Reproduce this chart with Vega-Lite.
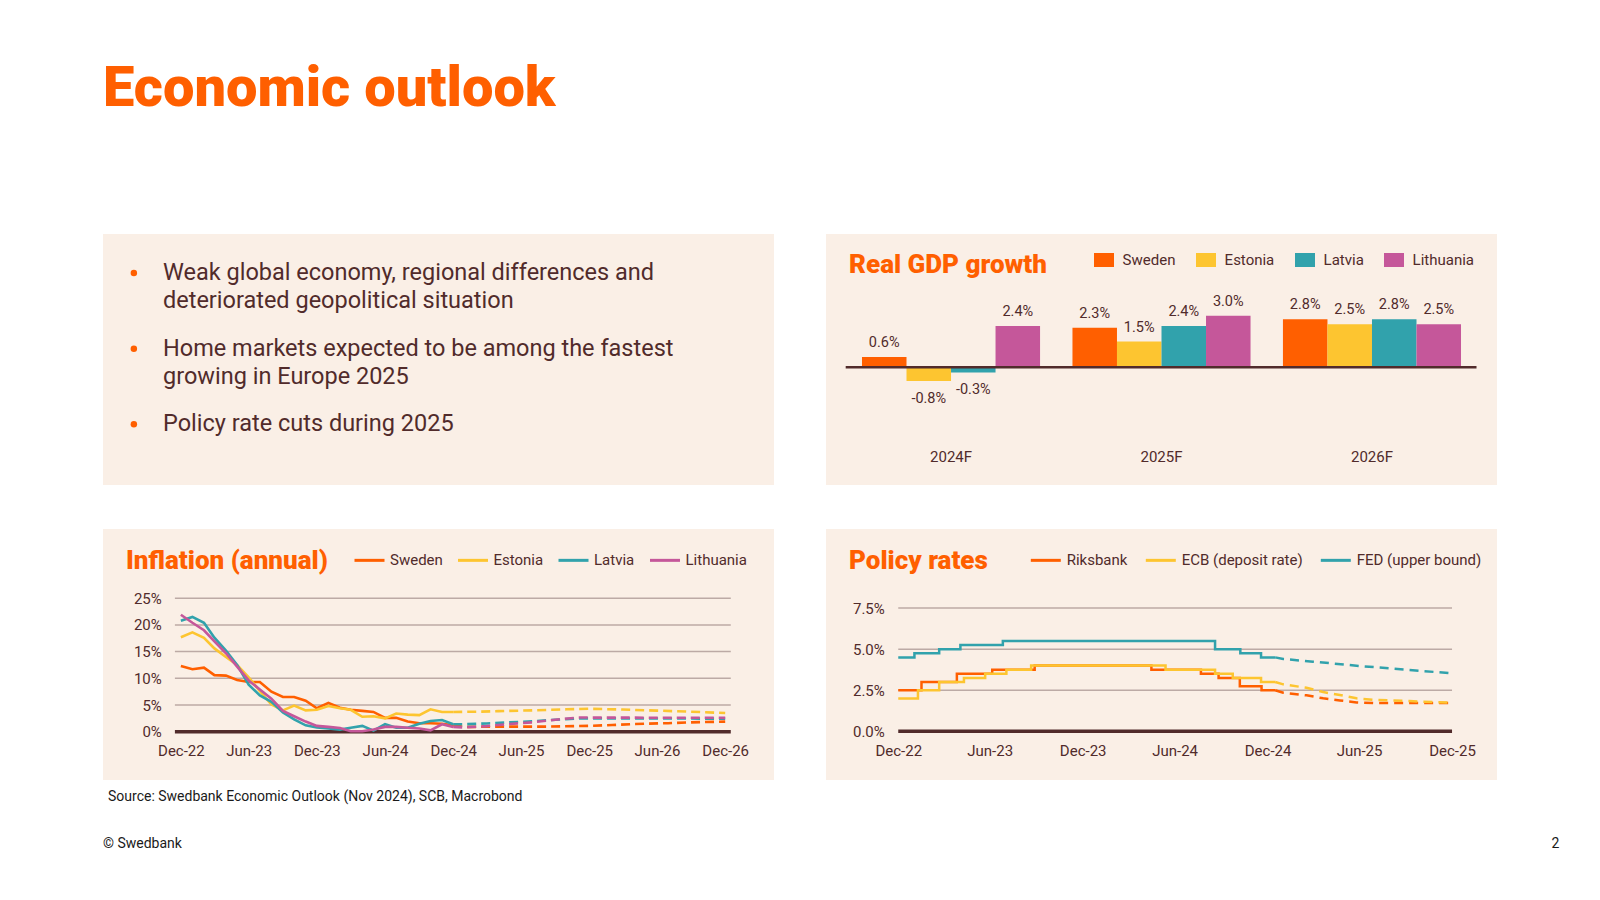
{
  "$schema": "https://vega.github.io/schema/vega-lite/v6.json",
  "background": "#ffffff",
  "padding": {"left": 103, "top": 61, "right": 0, "bottom": 0},
  "title": {"text": "Economic outlook", "anchor": "start", "frame": "group", "baseline": "top", "offset": 116, "font": "Roboto", "fontSize": 56, "fontWeight": 900, "color": "#ff5f00"},
  "config": {
    "font": "Roboto",
    "view": {"stroke": null},
    "locale": {"number": {"decimal": ".", "thousands": ",", "grouping": [3], "currency": ["", "%"], "minus": "-"}},
    "axis": {"labelFont": "Roboto", "labelFontSize": 15, "labelColor": "#512b2b", "domain": false, "ticks": false, "tickSize": 0, "grid": false, "labelPadding": 0, "labelFlush": false, "labelOverlap": false},
    "legend": {"labelFont": "Roboto", "labelFontSize": 15, "labelColor": "#512b2b", "padding": 0}
  },
  "datasets": {
    "bullets": [
      {"item": 1, "text": ["Weak global economy, regional differences and", "deteriorated geopolitical situation"]},
      {"item": 2, "text": ["Home markets expected to be among the fastest", "growing in Europe 2025"]},
      {"item": 3, "text": ["Policy rate cuts during 2025"]}
    ],
    "gdp": [
      {"year": "2024F", "country": "Sweden", "value": 0.6},
      {"year": "2024F", "country": "Estonia", "value": -0.8},
      {"year": "2024F", "country": "Latvia", "value": -0.3},
      {"year": "2024F", "country": "Lithuania", "value": 2.4},
      {"year": "2025F", "country": "Sweden", "value": 2.3},
      {"year": "2025F", "country": "Estonia", "value": 1.5},
      {"year": "2025F", "country": "Latvia", "value": 2.4},
      {"year": "2025F", "country": "Lithuania", "value": 3.0},
      {"year": "2026F", "country": "Sweden", "value": 2.8},
      {"year": "2026F", "country": "Estonia", "value": 2.5},
      {"year": "2026F", "country": "Latvia", "value": 2.8},
      {"year": "2026F", "country": "Lithuania", "value": 2.5}
    ],
    "gdpZero": [{"level": 0}],
    "inflGrid": [{"level": 0}, {"level": 5}, {"level": 10}, {"level": 15}, {"level": 20}, {"level": 25}],
    "policyGrid": [{"level": 0}, {"level": 2.5}, {"level": 5}, {"level": 7.5}],
    "footer": [{"item": "copyright", "note": "© Swedbank"}, {"item": "page", "note": "2"}],
    "inflation": [
      {"country": "Sweden", "date": "2022-12-01", "value": 12.3, "kind": "actual"},
      {"country": "Sweden", "date": "2023-01-01", "value": 11.7, "kind": "actual"},
      {"country": "Sweden", "date": "2023-02-01", "value": 12.0, "kind": "actual"},
      {"country": "Sweden", "date": "2023-03-01", "value": 10.6, "kind": "actual"},
      {"country": "Sweden", "date": "2023-04-01", "value": 10.5, "kind": "actual"},
      {"country": "Sweden", "date": "2023-05-01", "value": 9.7, "kind": "actual"},
      {"country": "Sweden", "date": "2023-06-01", "value": 9.3, "kind": "actual"},
      {"country": "Sweden", "date": "2023-07-01", "value": 9.3, "kind": "actual"},
      {"country": "Sweden", "date": "2023-08-01", "value": 7.5, "kind": "actual"},
      {"country": "Sweden", "date": "2023-09-01", "value": 6.5, "kind": "actual"},
      {"country": "Sweden", "date": "2023-10-01", "value": 6.5, "kind": "actual"},
      {"country": "Sweden", "date": "2023-11-01", "value": 5.8, "kind": "actual"},
      {"country": "Sweden", "date": "2023-12-01", "value": 4.4, "kind": "actual"},
      {"country": "Sweden", "date": "2024-01-01", "value": 5.4, "kind": "actual"},
      {"country": "Sweden", "date": "2024-02-01", "value": 4.5, "kind": "actual"},
      {"country": "Sweden", "date": "2024-03-01", "value": 4.1, "kind": "actual"},
      {"country": "Sweden", "date": "2024-04-01", "value": 3.9, "kind": "actual"},
      {"country": "Sweden", "date": "2024-05-01", "value": 3.7, "kind": "actual"},
      {"country": "Sweden", "date": "2024-06-01", "value": 2.6, "kind": "actual"},
      {"country": "Sweden", "date": "2024-07-01", "value": 2.6, "kind": "actual"},
      {"country": "Sweden", "date": "2024-08-01", "value": 1.9, "kind": "actual"},
      {"country": "Sweden", "date": "2024-09-01", "value": 1.6, "kind": "actual"},
      {"country": "Sweden", "date": "2024-10-01", "value": 1.6, "kind": "actual"},
      {"country": "Sweden", "date": "2024-11-01", "value": 1.5, "kind": "actual"},
      {"country": "Sweden", "date": "2024-12-01", "value": 1.2, "kind": "actual"},
      {"country": "Estonia", "date": "2022-12-01", "value": 17.7, "kind": "actual"},
      {"country": "Estonia", "date": "2023-01-01", "value": 18.6, "kind": "actual"},
      {"country": "Estonia", "date": "2023-02-01", "value": 17.6, "kind": "actual"},
      {"country": "Estonia", "date": "2023-03-01", "value": 15.6, "kind": "actual"},
      {"country": "Estonia", "date": "2023-04-01", "value": 14.0, "kind": "actual"},
      {"country": "Estonia", "date": "2023-05-01", "value": 12.5, "kind": "actual"},
      {"country": "Estonia", "date": "2023-06-01", "value": 10.2, "kind": "actual"},
      {"country": "Estonia", "date": "2023-07-01", "value": 7.6, "kind": "actual"},
      {"country": "Estonia", "date": "2023-08-01", "value": 5.1, "kind": "actual"},
      {"country": "Estonia", "date": "2023-09-01", "value": 4.0, "kind": "actual"},
      {"country": "Estonia", "date": "2023-10-01", "value": 4.9, "kind": "actual"},
      {"country": "Estonia", "date": "2023-11-01", "value": 4.0, "kind": "actual"},
      {"country": "Estonia", "date": "2023-12-01", "value": 4.1, "kind": "actual"},
      {"country": "Estonia", "date": "2024-01-01", "value": 4.8, "kind": "actual"},
      {"country": "Estonia", "date": "2024-02-01", "value": 4.4, "kind": "actual"},
      {"country": "Estonia", "date": "2024-03-01", "value": 4.1, "kind": "actual"},
      {"country": "Estonia", "date": "2024-04-01", "value": 2.8, "kind": "actual"},
      {"country": "Estonia", "date": "2024-05-01", "value": 2.9, "kind": "actual"},
      {"country": "Estonia", "date": "2024-06-01", "value": 2.5, "kind": "actual"},
      {"country": "Estonia", "date": "2024-07-01", "value": 3.4, "kind": "actual"},
      {"country": "Estonia", "date": "2024-08-01", "value": 3.2, "kind": "actual"},
      {"country": "Estonia", "date": "2024-09-01", "value": 3.1, "kind": "actual"},
      {"country": "Estonia", "date": "2024-10-01", "value": 4.2, "kind": "actual"},
      {"country": "Estonia", "date": "2024-11-01", "value": 3.7, "kind": "actual"},
      {"country": "Estonia", "date": "2024-12-01", "value": 3.7, "kind": "actual"},
      {"country": "Latvia", "date": "2022-12-01", "value": 20.8, "kind": "actual"},
      {"country": "Latvia", "date": "2023-01-01", "value": 21.5, "kind": "actual"},
      {"country": "Latvia", "date": "2023-02-01", "value": 20.4, "kind": "actual"},
      {"country": "Latvia", "date": "2023-03-01", "value": 17.6, "kind": "actual"},
      {"country": "Latvia", "date": "2023-04-01", "value": 15.2, "kind": "actual"},
      {"country": "Latvia", "date": "2023-05-01", "value": 12.5, "kind": "actual"},
      {"country": "Latvia", "date": "2023-06-01", "value": 8.8, "kind": "actual"},
      {"country": "Latvia", "date": "2023-07-01", "value": 6.8, "kind": "actual"},
      {"country": "Latvia", "date": "2023-08-01", "value": 5.6, "kind": "actual"},
      {"country": "Latvia", "date": "2023-09-01", "value": 3.6, "kind": "actual"},
      {"country": "Latvia", "date": "2023-10-01", "value": 2.3, "kind": "actual"},
      {"country": "Latvia", "date": "2023-11-01", "value": 1.2, "kind": "actual"},
      {"country": "Latvia", "date": "2023-12-01", "value": 0.8, "kind": "actual"},
      {"country": "Latvia", "date": "2024-01-01", "value": 0.6, "kind": "actual"},
      {"country": "Latvia", "date": "2024-02-01", "value": 0.4, "kind": "actual"},
      {"country": "Latvia", "date": "2024-03-01", "value": 0.75, "kind": "actual"},
      {"country": "Latvia", "date": "2024-04-01", "value": 1.1, "kind": "actual"},
      {"country": "Latvia", "date": "2024-05-01", "value": 0.2, "kind": "actual"},
      {"country": "Latvia", "date": "2024-06-01", "value": 1.4, "kind": "actual"},
      {"country": "Latvia", "date": "2024-07-01", "value": 0.75, "kind": "actual"},
      {"country": "Latvia", "date": "2024-08-01", "value": 0.75, "kind": "actual"},
      {"country": "Latvia", "date": "2024-09-01", "value": 1.5, "kind": "actual"},
      {"country": "Latvia", "date": "2024-10-01", "value": 2.0, "kind": "actual"},
      {"country": "Latvia", "date": "2024-11-01", "value": 2.2, "kind": "actual"},
      {"country": "Latvia", "date": "2024-12-01", "value": 1.4, "kind": "actual"},
      {"country": "Lithuania", "date": "2022-12-01", "value": 21.9, "kind": "actual"},
      {"country": "Lithuania", "date": "2023-01-01", "value": 20.4, "kind": "actual"},
      {"country": "Lithuania", "date": "2023-02-01", "value": 19.0, "kind": "actual"},
      {"country": "Lithuania", "date": "2023-03-01", "value": 16.9, "kind": "actual"},
      {"country": "Lithuania", "date": "2023-04-01", "value": 14.7, "kind": "actual"},
      {"country": "Lithuania", "date": "2023-05-01", "value": 12.2, "kind": "actual"},
      {"country": "Lithuania", "date": "2023-06-01", "value": 9.6, "kind": "actual"},
      {"country": "Lithuania", "date": "2023-07-01", "value": 7.9, "kind": "actual"},
      {"country": "Lithuania", "date": "2023-08-01", "value": 6.2, "kind": "actual"},
      {"country": "Lithuania", "date": "2023-09-01", "value": 3.9, "kind": "actual"},
      {"country": "Lithuania", "date": "2023-10-01", "value": 2.9, "kind": "actual"},
      {"country": "Lithuania", "date": "2023-11-01", "value": 1.9, "kind": "actual"},
      {"country": "Lithuania", "date": "2023-12-01", "value": 1.1, "kind": "actual"},
      {"country": "Lithuania", "date": "2024-01-01", "value": 0.9, "kind": "actual"},
      {"country": "Lithuania", "date": "2024-02-01", "value": 0.7, "kind": "actual"},
      {"country": "Lithuania", "date": "2024-03-01", "value": 0.1, "kind": "actual"},
      {"country": "Lithuania", "date": "2024-04-01", "value": 0.1, "kind": "actual"},
      {"country": "Lithuania", "date": "2024-05-01", "value": 0.4, "kind": "actual"},
      {"country": "Lithuania", "date": "2024-06-01", "value": 0.9, "kind": "actual"},
      {"country": "Lithuania", "date": "2024-07-01", "value": 0.9, "kind": "actual"},
      {"country": "Lithuania", "date": "2024-08-01", "value": 0.75, "kind": "actual"},
      {"country": "Lithuania", "date": "2024-09-01", "value": 0.6, "kind": "actual"},
      {"country": "Lithuania", "date": "2024-10-01", "value": 0.25, "kind": "actual"},
      {"country": "Lithuania", "date": "2024-11-01", "value": 1.4, "kind": "actual"},
      {"country": "Lithuania", "date": "2024-12-01", "value": 0.9, "kind": "actual"},
      {"country": "Sweden", "date": "2024-12-01", "value": 1.2, "kind": "forecast"},
      {"country": "Sweden", "date": "2025-01-01", "value": 0.9, "kind": "forecast"},
      {"country": "Sweden", "date": "2025-04-01", "value": 0.95, "kind": "forecast"},
      {"country": "Sweden", "date": "2025-08-01", "value": 0.95, "kind": "forecast"},
      {"country": "Sweden", "date": "2025-12-01", "value": 1.1, "kind": "forecast"},
      {"country": "Sweden", "date": "2026-02-01", "value": 1.25, "kind": "forecast"},
      {"country": "Sweden", "date": "2026-04-01", "value": 1.45, "kind": "forecast"},
      {"country": "Sweden", "date": "2026-07-01", "value": 1.6, "kind": "forecast"},
      {"country": "Sweden", "date": "2026-09-01", "value": 1.75, "kind": "forecast"},
      {"country": "Sweden", "date": "2026-12-01", "value": 1.9, "kind": "forecast"},
      {"country": "Estonia", "date": "2024-12-01", "value": 3.7, "kind": "forecast"},
      {"country": "Estonia", "date": "2025-02-01", "value": 3.75, "kind": "forecast"},
      {"country": "Estonia", "date": "2025-04-01", "value": 3.85, "kind": "forecast"},
      {"country": "Estonia", "date": "2025-07-01", "value": 4.0, "kind": "forecast"},
      {"country": "Estonia", "date": "2025-10-01", "value": 4.2, "kind": "forecast"},
      {"country": "Estonia", "date": "2025-12-01", "value": 4.3, "kind": "forecast"},
      {"country": "Estonia", "date": "2026-03-01", "value": 4.15, "kind": "forecast"},
      {"country": "Estonia", "date": "2026-06-01", "value": 3.95, "kind": "forecast"},
      {"country": "Estonia", "date": "2026-09-01", "value": 3.75, "kind": "forecast"},
      {"country": "Estonia", "date": "2026-12-01", "value": 3.5, "kind": "forecast"},
      {"country": "Latvia", "date": "2024-12-01", "value": 1.4, "kind": "forecast"},
      {"country": "Latvia", "date": "2025-01-01", "value": 1.4, "kind": "forecast"},
      {"country": "Latvia", "date": "2025-03-01", "value": 1.55, "kind": "forecast"},
      {"country": "Latvia", "date": "2025-05-01", "value": 1.75, "kind": "forecast"},
      {"country": "Latvia", "date": "2025-07-01", "value": 1.95, "kind": "forecast"},
      {"country": "Latvia", "date": "2025-09-01", "value": 2.25, "kind": "forecast"},
      {"country": "Latvia", "date": "2025-11-01", "value": 2.5, "kind": "forecast"},
      {"country": "Latvia", "date": "2025-12-01", "value": 2.5, "kind": "forecast"},
      {"country": "Latvia", "date": "2026-12-01", "value": 2.45, "kind": "forecast"},
      {"country": "Lithuania", "date": "2024-12-01", "value": 0.9, "kind": "forecast"},
      {"country": "Lithuania", "date": "2025-01-01", "value": 0.8, "kind": "forecast"},
      {"country": "Lithuania", "date": "2025-03-01", "value": 1.05, "kind": "forecast"},
      {"country": "Lithuania", "date": "2025-05-01", "value": 1.45, "kind": "forecast"},
      {"country": "Lithuania", "date": "2025-07-01", "value": 1.75, "kind": "forecast"},
      {"country": "Lithuania", "date": "2025-09-01", "value": 2.25, "kind": "forecast"},
      {"country": "Lithuania", "date": "2025-11-01", "value": 2.65, "kind": "forecast"},
      {"country": "Lithuania", "date": "2025-12-01", "value": 2.65, "kind": "forecast"},
      {"country": "Lithuania", "date": "2026-12-01", "value": 2.6, "kind": "forecast"}
    ],
    "policy": [
      {"bank": "Riksbank", "date": "2022-12-31", "rate": 2.5, "kind": "actual"},
      {"bank": "Riksbank", "date": "2023-02-15", "rate": 3.0, "kind": "actual"},
      {"bank": "Riksbank", "date": "2023-04-26", "rate": 3.5, "kind": "actual"},
      {"bank": "Riksbank", "date": "2023-07-05", "rate": 3.75, "kind": "actual"},
      {"bank": "Riksbank", "date": "2023-09-27", "rate": 4.0, "kind": "actual"},
      {"bank": "Riksbank", "date": "2024-05-15", "rate": 3.75, "kind": "actual"},
      {"bank": "Riksbank", "date": "2024-08-21", "rate": 3.5, "kind": "actual"},
      {"bank": "Riksbank", "date": "2024-09-25", "rate": 3.25, "kind": "actual"},
      {"bank": "Riksbank", "date": "2024-11-06", "rate": 2.75, "kind": "actual"},
      {"bank": "Riksbank", "date": "2024-12-19", "rate": 2.5, "kind": "actual"},
      {"bank": "Riksbank", "date": "2025-01-15", "rate": 2.5, "kind": "actual"},
      {"bank": "ECB (deposit rate)", "date": "2022-12-31", "rate": 2.0, "kind": "actual"},
      {"bank": "ECB (deposit rate)", "date": "2023-02-08", "rate": 2.5, "kind": "actual"},
      {"bank": "ECB (deposit rate)", "date": "2023-03-22", "rate": 3.0, "kind": "actual"},
      {"bank": "ECB (deposit rate)", "date": "2023-05-10", "rate": 3.25, "kind": "actual"},
      {"bank": "ECB (deposit rate)", "date": "2023-06-21", "rate": 3.5, "kind": "actual"},
      {"bank": "ECB (deposit rate)", "date": "2023-08-02", "rate": 3.75, "kind": "actual"},
      {"bank": "ECB (deposit rate)", "date": "2023-09-20", "rate": 4.0, "kind": "actual"},
      {"bank": "ECB (deposit rate)", "date": "2024-06-12", "rate": 3.75, "kind": "actual"},
      {"bank": "ECB (deposit rate)", "date": "2024-09-18", "rate": 3.5, "kind": "actual"},
      {"bank": "ECB (deposit rate)", "date": "2024-10-23", "rate": 3.25, "kind": "actual"},
      {"bank": "ECB (deposit rate)", "date": "2024-12-18", "rate": 3.0, "kind": "actual"},
      {"bank": "ECB (deposit rate)", "date": "2025-01-15", "rate": 3.0, "kind": "actual"},
      {"bank": "FED (upper bound)", "date": "2022-12-31", "rate": 4.5, "kind": "actual"},
      {"bank": "FED (upper bound)", "date": "2023-02-01", "rate": 4.75, "kind": "actual"},
      {"bank": "FED (upper bound)", "date": "2023-03-22", "rate": 5.0, "kind": "actual"},
      {"bank": "FED (upper bound)", "date": "2023-05-03", "rate": 5.25, "kind": "actual"},
      {"bank": "FED (upper bound)", "date": "2023-07-26", "rate": 5.5, "kind": "actual"},
      {"bank": "FED (upper bound)", "date": "2024-09-18", "rate": 5.0, "kind": "actual"},
      {"bank": "FED (upper bound)", "date": "2024-11-07", "rate": 4.75, "kind": "actual"},
      {"bank": "FED (upper bound)", "date": "2024-12-18", "rate": 4.5, "kind": "actual"},
      {"bank": "FED (upper bound)", "date": "2025-01-15", "rate": 4.5, "kind": "actual"},
      {"bank": "Riksbank", "date": "2025-01-15", "rate": 2.5, "kind": "forecast"},
      {"bank": "Riksbank", "date": "2025-01-31", "rate": 2.35, "kind": "forecast"},
      {"bank": "Riksbank", "date": "2025-03-18", "rate": 2.19, "kind": "forecast"},
      {"bank": "Riksbank", "date": "2025-04-20", "rate": 2.01, "kind": "forecast"},
      {"bank": "Riksbank", "date": "2025-05-23", "rate": 1.88, "kind": "forecast"},
      {"bank": "Riksbank", "date": "2025-06-25", "rate": 1.76, "kind": "forecast"},
      {"bank": "Riksbank", "date": "2025-07-28", "rate": 1.72, "kind": "forecast"},
      {"bank": "Riksbank", "date": "2025-12-31", "rate": 1.72, "kind": "forecast"},
      {"bank": "ECB (deposit rate)", "date": "2025-01-15", "rate": 3.0, "kind": "forecast"},
      {"bank": "ECB (deposit rate)", "date": "2025-01-31", "rate": 2.86, "kind": "forecast"},
      {"bank": "ECB (deposit rate)", "date": "2025-03-18", "rate": 2.65, "kind": "forecast"},
      {"bank": "ECB (deposit rate)", "date": "2025-04-20", "rate": 2.39, "kind": "forecast"},
      {"bank": "ECB (deposit rate)", "date": "2025-05-23", "rate": 2.21, "kind": "forecast"},
      {"bank": "ECB (deposit rate)", "date": "2025-06-25", "rate": 2.01, "kind": "forecast"},
      {"bank": "ECB (deposit rate)", "date": "2025-07-28", "rate": 1.92, "kind": "forecast"},
      {"bank": "ECB (deposit rate)", "date": "2025-10-08", "rate": 1.84, "kind": "forecast"},
      {"bank": "ECB (deposit rate)", "date": "2025-12-31", "rate": 1.74, "kind": "forecast"},
      {"bank": "FED (upper bound)", "date": "2025-01-15", "rate": 4.5, "kind": "forecast"},
      {"bank": "FED (upper bound)", "date": "2025-01-31", "rate": 4.4, "kind": "forecast"},
      {"bank": "FED (upper bound)", "date": "2025-03-31", "rate": 4.24, "kind": "forecast"},
      {"bank": "FED (upper bound)", "date": "2025-06-30", "rate": 3.98, "kind": "forecast"},
      {"bank": "FED (upper bound)", "date": "2025-09-30", "rate": 3.75, "kind": "forecast"},
      {"bank": "FED (upper bound)", "date": "2025-12-31", "rate": 3.53, "kind": "forecast"}
    ]
  },
  "spacing": 10,
  "resolve": {"scale": {"color": "independent", "x": "independent", "y": "independent"}, "legend": {"color": "independent"}},
  "vconcat": [
    {
      "spacing": 44,
      "resolve": {"scale": {"color": "independent", "x": "independent", "y": "independent"}, "legend": {"color": "independent"}},
      "vconcat": [
        {
          "spacing": 52,
          "bounds": "flush",
          "resolve": {"scale": {"color": "independent", "x": "independent", "y": "independent"}, "legend": {"color": "independent"}},
          "hconcat": [
            {
              "width": 671,
              "height": 251,
              "view": {"fill": "#faefe6", "stroke": null},
              "data": {"name": "bullets"},
              "layer": [
                {
                  "mark": {"type": "circle", "size": 42, "color": "#ff5f00", "opacity": 1, "yOffset": -7},
                  "encoding": {
                    "x": {"datum": 0.046, "type": "quantitative", "scale": {"domain": [0, 1], "nice": false, "zero": false}, "axis": null},
                    "y": {"field": "item", "type": "quantitative", "scale": {"domain": [0.392, 3.71], "reverse": true, "nice": false, "zero": false}, "axis": null}
                  }
                },
                {
                  "mark": {"type": "text", "align": "left", "baseline": "alphabetic", "lineHeight": 28, "font": "Roboto", "fontSize": 23.5, "color": "#512b2b"},
                  "encoding": {
                    "x": {"datum": 0.0894, "type": "quantitative"},
                    "y": {"field": "item", "type": "quantitative"},
                    "text": {"field": "text"}
                  }
                }
              ]
            },
            {
              "width": 671,
              "height": 251,
              "view": {"fill": "#faefe6", "stroke": null},
              "title": {"text": "Real GDP growth", "anchor": "start", "frame": "group", "baseline": "top", "offset": -44.2, "dx": 23, "font": "Roboto", "fontSize": 26, "fontWeight": 900, "color": "#ff5f00"},
              "layer": [
                {
                  "data": {"name": "gdp"},
                  "mark": {"type": "bar"},
                  "encoding": {
                    "x": {"field": "year", "type": "nominal", "scale": {"paddingInner": 0.154, "paddingOuter": 0.171}, "axis": {"orient": "bottom", "offset": -35.5, "labelAngle": 0, "title": null, "labelBaseline": "top"}},
                    "xOffset": {"field": "country", "type": "nominal", "sort": ["Sweden", "Estonia", "Latvia", "Lithuania"], "scale": {"paddingInner": 0, "paddingOuter": 0}},
                    "y": {"field": "value", "type": "quantitative", "scale": {"domain": [-6.84, 7.75], "nice": false, "zero": false}, "axis": null},
                    "color": {"field": "country", "type": "nominal", "sort": ["Sweden", "Estonia", "Latvia", "Lithuania"], "scale": {"domain": ["Sweden", "Estonia", "Latvia", "Lithuania"], "range": ["#ff5f00", "#fdc530", "#31a2ac", "#c5579a"]},
                      "legend": {"orient": "none", "legendX": 268, "legendY": 16, "direction": "horizontal", "title": null, "symbolType": "M-1,-0.7H1V0.7H-1Z", "symbolSize": 400, "symbolStrokeWidth": 0, "symbolOpacity": 1, "labelOffset": 8.6, "columnPadding": 20}}
                  }
                },
                {
                  "data": {"name": "gdpZero"},
                  "mark": {"type": "rule", "color": "#512b2b", "strokeWidth": 2.5, "xOffset": -16.3, "x2Offset": 15.5},
                  "encoding": {
                    "x": {"datum": "2024F", "type": "nominal", "bandPosition": 0},
                    "x2": {"datum": "2026F", "bandPosition": 1},
                    "y": {"field": "level", "type": "quantitative"}
                  }
                },
                {
                  "data": {"name": "gdp"},
                  "transform": [{"filter": "datum.value >= 0"}],
                  "mark": {"type": "text", "baseline": "alphabetic", "dy": -10, "font": "Roboto", "fontSize": 14.5, "color": "#512b2b"},
                  "encoding": {
                    "x": {"field": "year", "type": "nominal"},
                    "xOffset": {"field": "country", "type": "nominal", "sort": ["Sweden", "Estonia", "Latvia", "Lithuania"]},
                    "y": {"field": "value", "type": "quantitative"},
                    "text": {"field": "value", "type": "quantitative", "format": "$.1f"}
                  }
                },
                {
                  "data": {"name": "gdp"},
                  "transform": [{"filter": "datum.value < 0"}],
                  "mark": {"type": "text", "baseline": "top", "dy": 11, "font": "Roboto", "fontSize": 14.5, "color": "#512b2b"},
                  "encoding": {
                    "x": {"field": "year", "type": "nominal"},
                    "xOffset": {"field": "country", "type": "nominal", "sort": ["Sweden", "Estonia", "Latvia", "Lithuania"]},
                    "y": {"field": "value", "type": "quantitative"},
                    "text": {"field": "value", "type": "quantitative", "format": "$.1f"}
                  }
                }
              ]
            }
          ]
        },
        {
          "spacing": 52,
          "bounds": "flush",
          "resolve": {"scale": {"color": "independent", "x": "independent", "y": "independent"}, "legend": {"color": "independent"}},
          "hconcat": [
            {
              "width": 671,
              "height": 251,
              "view": {"fill": "#faefe6", "stroke": null},
              "title": {"text": "Inflation (annual)", "anchor": "start", "frame": "group", "baseline": "top", "offset": -44.8, "dx": 23, "font": "Roboto", "fontSize": 26, "fontWeight": 900, "color": "#ff5f00"},
              "layer": [
                {
                  "data": {"name": "inflGrid"},
                  "transform": [{"filter": "datum.level > 0"}],
                  "mark": {"type": "rule", "color": "#bcaaa5", "strokeWidth": 1.5},
                  "encoding": {
                    "x": {"datum": {"year": 2022, "month": 11, "date": 15, "utc": true}, "type": "temporal",
                      "scale": {"type": "utc", "domain": [{"year": 2022, "month": 5, "date": 6, "utc": true}, {"year": 2027, "month": 4, "date": 11, "utc": true}], "nice": false},
                      "axis": {"orient": "bottom", "offset": -36.2, "title": null, "format": "%b-%y", "labelBaseline": "top",
                        "values": [{"year": 2022, "month": 12, "date": 1, "utc": true}, {"year": 2023, "month": 6, "date": 1, "utc": true}, {"year": 2023, "month": 12, "date": 1, "utc": true}, {"year": 2024, "month": 6, "date": 1, "utc": true}, {"year": 2024, "month": 12, "date": 1, "utc": true}, {"year": 2025, "month": 6, "date": 1, "utc": true}, {"year": 2025, "month": 12, "date": 1, "utc": true}, {"year": 2026, "month": 6, "date": 1, "utc": true}, {"year": 2026, "month": 12, "date": 1, "utc": true}]}},
                    "x2": {"datum": {"year": 2026, "month": 12, "date": 16, "utc": true}},
                    "y": {"field": "level", "type": "quantitative", "scale": {"domain": [-9.04, 37.96], "nice": false, "zero": false},
                      "axis": {"orient": "left", "offset": -58.3, "title": null, "values": [0, 5, 10, 15, 20, 25], "format": "$.0f"}}
                  }
                },
                {
                  "data": {"name": "inflGrid"},
                  "transform": [{"filter": "datum.level == 0"}],
                  "mark": {"type": "rule", "color": "#512b2b", "strokeWidth": 3.5},
                  "encoding": {
                    "x": {"datum": {"year": 2022, "month": 11, "date": 15, "utc": true}, "type": "temporal"},
                    "x2": {"datum": {"year": 2026, "month": 12, "date": 16, "utc": true}},
                    "y": {"field": "level", "type": "quantitative"}
                  }
                },
                {
                  "data": {"name": "inflation"},
                  "transform": [{"filter": "datum.kind == 'actual'"}],
                  "mark": {"type": "line", "strokeWidth": 2.6},
                  "encoding": {
                    "x": {"field": "date", "type": "temporal"},
                    "y": {"field": "value", "type": "quantitative"},
                    "color": {"field": "country", "type": "nominal", "scale": {"domain": ["Sweden", "Estonia", "Latvia", "Lithuania"], "range": ["#ff5f00", "#fdc530", "#31a2ac", "#c5579a"]},
                      "legend": {"orient": "none", "legendX": 250, "legendY": 14.6, "direction": "horizontal", "title": null, "symbolType": "stroke", "symbolSize": 900, "symbolStrokeWidth": 3, "symbolDash": [], "labelOffset": 4, "columnPadding": 8.5}}
                  }
                },
                {
                  "data": {"name": "inflation"},
                  "transform": [{"filter": "datum.kind == 'forecast'"}],
                  "mark": {"type": "line", "strokeWidth": 2.6, "strokeDash": [9, 5]},
                  "encoding": {
                    "x": {"field": "date", "type": "temporal"},
                    "y": {"field": "value", "type": "quantitative"},
                    "color": {"field": "country", "type": "nominal"}
                  }
                }
              ]
            },
            {
              "width": 671,
              "height": 251,
              "view": {"fill": "#faefe6", "stroke": null},
              "title": {"text": "Policy rates", "anchor": "start", "frame": "group", "baseline": "top", "offset": -44.8, "dx": 23, "font": "Roboto", "fontSize": 26, "fontWeight": 900, "color": "#ff5f00"},
              "layer": [
                {
                  "data": {"name": "policyGrid"},
                  "transform": [{"filter": "datum.level > 0"}],
                  "mark": {"type": "rule", "color": "#bcaaa5", "strokeWidth": 1.5},
                  "encoding": {
                    "x": {"datum": {"year": 2022, "month": 12, "date": 31, "utc": true}, "type": "temporal",
                      "scale": {"type": "utc", "domain": [{"year": 2022, "month": 8, "date": 10, "utc": true}, {"year": 2026, "month": 3, "date": 30, "utc": true}], "nice": false},
                      "axis": {"orient": "bottom", "offset": -36.2, "title": null, "format": "%b-%y", "labelBaseline": "top",
                        "values": [{"year": 2022, "month": 12, "date": 31, "utc": true}, {"year": 2023, "month": 6, "date": 30, "utc": true}, {"year": 2023, "month": 12, "date": 31, "utc": true}, {"year": 2024, "month": 6, "date": 30, "utc": true}, {"year": 2024, "month": 12, "date": 31, "utc": true}, {"year": 2025, "month": 6, "date": 30, "utc": true}, {"year": 2025, "month": 12, "date": 31, "utc": true}]}},
                    "x2": {"datum": {"year": 2025, "month": 12, "date": 31, "utc": true}},
                    "y": {"field": "level", "type": "quantitative", "scale": {"domain": [-2.96, 12.31], "nice": false, "zero": false},
                      "axis": {"orient": "left", "offset": -58.3, "title": null, "values": [0, 2.5, 5, 7.5], "format": "$.1f"}}
                  }
                },
                {
                  "data": {"name": "policyGrid"},
                  "transform": [{"filter": "datum.level == 0"}],
                  "mark": {"type": "rule", "color": "#512b2b", "strokeWidth": 3.5},
                  "encoding": {
                    "x": {"datum": {"year": 2022, "month": 12, "date": 31, "utc": true}, "type": "temporal"},
                    "x2": {"datum": {"year": 2025, "month": 12, "date": 31, "utc": true}},
                    "y": {"field": "level", "type": "quantitative"}
                  }
                },
                {
                  "data": {"name": "policy"},
                  "transform": [{"filter": "datum.kind == 'actual'"}],
                  "mark": {"type": "line", "strokeWidth": 2.5, "interpolate": "step-after"},
                  "encoding": {
                    "x": {"field": "date", "type": "temporal"},
                    "y": {"field": "rate", "type": "quantitative"},
                    "color": {"field": "bank", "type": "nominal", "scale": {"domain": ["Riksbank", "ECB (deposit rate)", "FED (upper bound)"], "range": ["#ff5f00", "#fdc530", "#31a2ac"]},
                      "legend": {"orient": "none", "legendX": 203.3, "legendY": 14.6, "direction": "horizontal", "title": null, "symbolType": "stroke", "symbolSize": 900, "symbolStrokeWidth": 3, "symbolDash": [], "labelOffset": 4.4, "columnPadding": 11}}
                  }
                },
                {
                  "data": {"name": "policy"},
                  "transform": [{"filter": "datum.kind == 'forecast'"}],
                  "mark": {"type": "line", "strokeWidth": 2.5, "strokeDash": [9, 6]},
                  "encoding": {
                    "x": {"field": "date", "type": "temporal"},
                    "y": {"field": "rate", "type": "quantitative"},
                    "color": {"field": "bank", "type": "nominal"}
                  }
                }
              ]
            }
          ]
        }
      ]
    },
    {
      "width": 1456.3,
      "height": 43.7,
      "view": {"stroke": null},
      "title": {"text": "Source: Swedbank Economic Outlook (Nov 2024), SCB, Macrobond", "anchor": "start", "frame": "group", "baseline": "top", "offset": 0, "dx": 5, "font": "Roboto", "fontSize": 14, "fontWeight": "normal", "color": "#1a1a1a"},
      "data": {"name": "footer"},
      "layer": [
        {
          "transform": [{"filter": "datum.item == 'copyright'"}],
          "mark": {"type": "text", "align": "left", "baseline": "alphabetic", "font": "Roboto", "fontSize": 14, "color": "#1a1a1a"},
          "encoding": {"x": {"value": 0}, "y": {"value": "height"}, "text": {"field": "note"}}
        },
        {
          "transform": [{"filter": "datum.item == 'page'"}],
          "mark": {"type": "text", "align": "right", "baseline": "alphabetic", "font": "Roboto", "fontSize": 14, "color": "#1a1a1a"},
          "encoding": {"x": {"value": "width"}, "y": {"value": "height"}, "text": {"field": "note"}}
        }
      ]
    }
  ]
}
